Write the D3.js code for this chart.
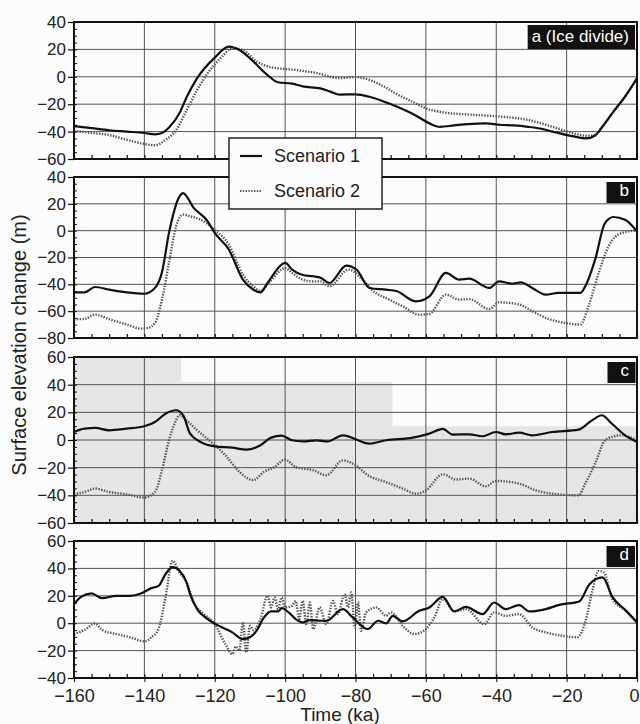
<!DOCTYPE html>
<html>
<head>
<meta charset="utf-8">
<script src="https://cdn.jsdelivr.net/npm/d3@7"></script>
<style>
  body { margin: 0; background: #fff; }
  svg { display: block; font-family: "Liberation Sans", Arial, Helvetica, sans-serif; }
</style>
</head>
<body>
<div id="chart"></div>
<script>
// time (ka) ticks and the two model scenarios, one pair of series per panel
const timeTicks = [-160, -140, -120, -100, -80, -60, -40, -20, 0];
const seriesNames = ["Scenario 1", "Scenario 2"];
const panelLabels = ["a (Ice divide)", "b", "c", "d"];
const panelDomains = [[-60, 40], [-80, 40], [-60, 60], [-40, 60]];

// [time ka, elevation change m]
const a1 = [[-160,-36],[-155,-37.5],[-150,-39],[-145,-40],[-140,-41],[-137,-42],[-135,-41],[-133,-37],[-130,-26.5],[-128,-15],[-125,-1],[-120,14],[-116,22],[-113,19.5],[-110,13.5],[-105,1.3],[-102,-4],[-98,-5],[-95,-7],[-90,-8.5],[-87,-11],[-84.5,-13],[-80,-12.8],[-76,-14.6],[-72,-18],[-68,-22],[-63,-28],[-59,-34],[-56,-36.5],[-52,-35.5],[-48,-34.5],[-43,-34],[-39,-35],[-35,-35.5],[-31,-36.5],[-27,-38],[-24,-40],[-18,-43.5],[-14.5,-45],[-12,-43],[-10,-37],[-7,-26.5],[-3,-13],[0,-1]];
const a2 = [[-160,-39.5],[-155,-41],[-150,-42.5],[-145,-46],[-140,-49],[-137,-50],[-134,-46],[-131,-39],[-128,-24.5],[-125,-9.6],[-122,2.7],[-118,14.5],[-115,21],[-112,19.5],[-108,11],[-104,7],[-97,5],[-91,2.7],[-84.5,-1],[-80,-0.2],[-76,-2.3],[-72,-7],[-68,-13],[-64,-18],[-60,-23],[-55,-26],[-48,-27.5],[-39,-29],[-31,-31.5],[-24,-36.5],[-18.4,-41],[-14.5,-43],[-12,-42.5],[-10,-37],[-7,-26.5],[-3,-13],[0,-1]];

const b1 = [[-160,-46],[-157,-46],[-154,-42],[-150,-44],[-145,-46],[-140,-47],[-137,-42.7],[-135,-31],[-133,-1.5],[-130,25.6],[-129,28],[-126,17],[-122,7],[-120,-1.7],[-116,-14],[-112,-36.5],[-109,-44],[-107,-46],[-105,-39],[-101,-25.3],[-100,-24],[-98,-29],[-95,-33],[-92,-34],[-90,-35],[-87.4,-39],[-82.6,-26],[-79.7,-29],[-76,-42.7],[-71.3,-44],[-68.4,-45],[-62.8,-52.7],[-59,-49],[-54.3,-31.5],[-50.5,-36.5],[-47.7,-35.8],[-42,-42.7],[-39.2,-37.8],[-35.5,-39.5],[-33,-38.5],[-29.8,-42.7],[-26,-47.7],[-22.3,-46.4],[-16.1,-46.4],[-14.7,-41.5],[-11.9,-21.6],[-9.1,5.7],[-6.7,10.2],[-3.4,8.2],[0,-0.5]];
const b2 = [[-160,-66],[-157,-65.8],[-154,-62.6],[-150,-66],[-145,-70],[-141,-73],[-139,-72.5],[-137,-68.8],[-135,-51.4],[-133,-24],[-131,3.2],[-129,12],[-127,10.7],[-124,8.2],[-120,0.7],[-116,-10.4],[-112,-32.8],[-109,-41.5],[-107,-45],[-105,-40],[-101,-29],[-100,-27.8],[-98,-31.5],[-95,-36.5],[-92,-37.8],[-90,-37.8],[-87.4,-41.5],[-82,-29],[-78,-36.5],[-75,-45],[-70.4,-51.4],[-66.6,-56.4],[-61.9,-62.6],[-59,-62],[-54.3,-47.7],[-50.5,-51.4],[-47.7,-51],[-42,-58.4],[-39.2,-53.4],[-33.5,-55],[-29.8,-60],[-25.1,-65.8],[-20.4,-68.8],[-16.1,-70],[-13.8,-56.4],[-10.9,-31.5],[-8.1,-11.7],[-4.3,-1.7],[0,0.2]];

const c1 = [[-160,5.8],[-157,8.2],[-154,8.7],[-150,7],[-145,8.2],[-140,9.9],[-137,13],[-134,19],[-131,21.5],[-129,17.9],[-127,4.6],[-124,-1.4],[-120,-4.6],[-115,-5.5],[-111,-7],[-107,-3.8],[-104,1.7],[-101,3.2],[-98,-0.2],[-95,-1],[-91,-0.2],[-88,-1],[-83.6,3.4],[-76,-2.6],[-71.3,-0.2],[-63.7,1.7],[-59,4.6],[-55.2,8],[-52.4,3.9],[-47.7,4.1],[-43.9,2.7],[-40.1,5.8],[-37.3,4.1],[-33.5,5.3],[-29.8,3.4],[-24.1,5.8],[-16.6,7.5],[-12.8,14.2],[-10,17.9],[-7.2,11.9],[-3.4,3.4],[0,-1.4]];
const c2 = [[-160,-39.3],[-157,-37.6],[-154,-35.1],[-150,-37.6],[-145,-39.3],[-140,-41.6],[-137,-37.6],[-135,-21.9],[-133,-0.2],[-131,14.2],[-130,17.9],[-128,14.2],[-125,7],[-121,-1.4],[-117,-11],[-113,-23],[-109,-29],[-106,-23],[-103,-19.5],[-100,-14.2],[-97,-19.5],[-92,-21.9],[-88.3,-25.5],[-83.6,-14.7],[-80.8,-17],[-76,-26.2],[-71.3,-30.4],[-66.6,-35.1],[-62.8,-38.8],[-60,-36.4],[-55.2,-24.8],[-51.4,-28.6],[-47.7,-27.9],[-43,-33.5],[-40.1,-29.6],[-33.5,-31.5],[-28.8,-36.4],[-24.1,-38.8],[-16.6,-40],[-14.7,-31.5],[-11.9,-17],[-9.1,-0.2],[-7.2,2.2],[-4.3,3.4],[0,-0.2]];

const d1 = [[-160,13.9],[-158,19.2],[-155,21.7],[-152,18.3],[-148,20],[-144,20],[-141,21.7],[-138,25.6],[-136,27.2],[-134,35.8],[-132,41],[-130,38.2],[-128,29.7],[-127,21.2],[-125,10.3],[-122,3],[-118,-3],[-115,-6.7],[-112,-11.6],[-110,-10.3],[-108,-5],[-106,4.2],[-104,8.6],[-102,8.6],[-101,11],[-99,7.9],[-97,3],[-95,0.6],[-93,2.3],[-90,1.8],[-88.3,1.8],[-83.6,10.3],[-80.8,4.2],[-76.5,-4.3],[-73.6,1.8],[-71.3,-0.1],[-69.4,5.4],[-66.6,1.3],[-61.9,9],[-59,11.5],[-55.2,19.2],[-51.9,8.6],[-48.6,11.9],[-43.9,6.6],[-40.6,15.1],[-37.3,10.3],[-33.5,13.2],[-30.6,8.6],[-25.9,10.3],[-22.1,13.4],[-16.4,15.9],[-13.5,28.5],[-9.8,33.4],[-6.9,18.8],[-3.1,9],[0,0.6]];
const d2 = [[-160,-7.9],[-157,-5],[-154,-0.2],[-152,-5],[-148,-7.9],[-144,-10.3],[-140,-13.3],[-138,-10.3],[-136,-4.3],[-134,18.8],[-132,45.5],[-130,37],[-128,29.7],[-126,15.1],[-123,6.6],[-120,-0.7],[-117,-15.2],[-115,-22.5],[-114,-17],[-113,-20],[-112,0.6],[-111,-21.3],[-110,-1.9],[-109,-5],[-107,3],[-105,20],[-104,11.5],[-103,18.8],[-102,10.3],[-101,18.8],[-100,11.5],[-98,12.7],[-97,16.3],[-96,3],[-95,16.3],[-94,-0.7],[-93,15.1],[-92,-4.3],[-90.2,11.5],[-88.3,-0.7],[-86.4,16.3],[-85,6.6],[-83.1,21.2],[-82.1,11.5],[-81.2,22.4],[-80.2,-3.1],[-79.3,15.1],[-78.4,-5.5],[-77,7.9],[-74.1,11.5],[-71.3,5.4],[-69.9,7.9],[-66.6,-1.9],[-63.3,-7.9],[-60,-4.3],[-57.6,4.2],[-55.2,17.6],[-51.9,8.6],[-48.6,10.3],[-43.4,-0.7],[-40.6,7.9],[-37.3,5.4],[-33.5,6.6],[-29.8,-3.1],[-25.9,-6.7],[-21.2,-9.2],[-17,-10.3],[-14.6,1.8],[-12.7,23.6],[-10.9,38.2],[-9.4,37],[-7,17.6],[-3.1,9],[0,0.6]];

// grey halftone patches in panel c of the scan: [t0, t1, top m, bottom m]
const cShade = [[-160, -129.5, 60, 42], [-160, -69.5, 42, 10], [-160, 0, 10, -60]];

const width = 640;
const height = 724;
const marginLeft = 74;
const marginRight = 3;
const panelTops = [22, 177, 357, 541];
const panelBottoms = [159, 338, 523, 678];
const series = [[a1, a2], [b1, b2], [c1, c2], [d1, d2]];

const x = d3.scaleLinear([-160, 0], [marginLeft, width - marginRight]);

const svg = d3.select("#chart").append("svg")
    .attr("width", width)
    .attr("height", height);

svg.append("rect").attr("width", width).attr("height", height).attr("fill", "#fcfcfc");

const line = d3.line().curve(d3.curveMonotoneX);

panelDomains.forEach((dom, i) => {
  const y = d3.scaleLinear(dom, [panelBottoms[i], panelTops[i]]);
  const g = svg.append("g");
  const innerW = x(0) - x(-160);
  const yTicks = d3.range(dom[0], dom[1] + 1, 20);

  if (i === 2) {
    g.selectAll("rect.shade").data(cShade).join("rect")
      .attr("x", d => x(d[0]))
      .attr("width", d => x(d[1]) - x(d[0]))
      .attr("y", d => y(d[2]))
      .attr("height", d => y(d[3]) - y(d[2]))
      .attr("fill", "#e6e6e6");
  }

  // grid
  g.append("g").selectAll("line").data(yTicks).join("line")
    .attr("x1", x(-160)).attr("x2", x(0))
    .attr("y1", d => y(d)).attr("y2", d => y(d))
    .attr("stroke", "#555").attr("stroke-width", 1);
  g.append("g").selectAll("line").data(timeTicks).join("line")
    .attr("x1", d => x(d)).attr("x2", d => x(d))
    .attr("y1", panelTops[i]).attr("y2", panelBottoms[i])
    .attr("stroke", "#555").attr("stroke-width", 1);

  // lines
  g.append("path")
    .attr("fill", "none")
    .attr("stroke", "#555")
    .attr("stroke-width", 2.4)
    .attr("stroke-dasharray", "1.4 1.4")
    .attr("d", line(series[i][1].map(d => [x(d[0]), y(d[1])])));
  g.append("path")
    .attr("fill", "none")
    .attr("stroke", "#111")
    .attr("stroke-width", 2.2)
    .attr("stroke-linejoin", "round")
    .attr("d", line(series[i][0].map(d => [x(d[0]), y(d[1])])));

  // frame
  g.append("rect")
    .attr("x", x(-160)).attr("y", panelTops[i])
    .attr("width", innerW).attr("height", panelBottoms[i] - panelTops[i])
    .attr("fill", "none").attr("stroke", "#111").attr("stroke-width", 2);

  // y axis: labelled major ticks out, minor ticks in
  const ya = g.append("g")
    .attr("transform", `translate(${marginLeft},0)`)
    .call(d3.axisLeft(y).tickValues(yTicks).tickSize(6).tickPadding(2));
  ya.select(".domain").remove();
  ya.selectAll("line").attr("stroke", "#111").attr("stroke-width", 1.2);
  ya.selectAll("text").attr("font-size", 17).attr("fill", "#222").attr("font-family", null);

  const ym = g.append("g")
    .attr("transform", `translate(${marginLeft},0)`)
    .call(d3.axisRight(y).tickValues(d3.range(dom[0], dom[1] + 1, 5)).tickSize(3).tickFormat(""));
  ym.select(".domain").remove();
  ym.selectAll("line").attr("stroke", "#111");

  // x axis: minor ticks pointing up into the panel
  const xm = g.append("g")
    .attr("transform", `translate(0,${panelBottoms[i]})`)
    .call(d3.axisTop(x).tickValues(d3.range(-160, 1, 5)).tickSize(4).tickFormat(""));
  xm.select(".domain").remove();
  xm.selectAll("line").attr("stroke", "#111").attr("stroke-width", 1.2);

  if (i === 3) {
    const xa = g.append("g")
      .attr("transform", `translate(0,${panelBottoms[i]})`)
      .call(d3.axisBottom(x).tickValues(timeTicks).tickSize(4).tickPadding(7));
    xa.select(".domain").remove();
    xa.selectAll("line").attr("stroke", "#111");
    xa.selectAll("text").attr("font-size", 18).attr("fill", "#222").attr("font-family", null)
      .attr("dx", d => d === 0 ? -3 : 0);
  }

  // panel label in a black box
  const lab = g.append("g");
  const txt = lab.append("text")
    .attr("x", x(0) - 8).attr("y", panelTops[i] + (i === 0 ? 20 : 19))
    .attr("text-anchor", "end")
    .attr("fill", "#fff")
    .attr("font-size", 17)
    .text(panelLabels[i]);
  const bb = txt.node().getBBox();
  const padX = i === 0 ? 4 : 13;
  lab.insert("rect", "text")
    .attr("x", bb.x - padX).attr("y", panelTops[i] + (i === 0 ? 3 : 5))
    .attr("width", bb.width + padX + 6).attr("height", i === 0 ? 24 : 21)
    .attr("fill", "#111");
});

// legend
const legend = svg.append("g").attr("transform", "translate(229,138)");
legend.append("rect")
  .attr("width", 153).attr("height", 71)
  .attr("fill", "#fcfcfc").attr("stroke", "#222").attr("stroke-width", 1.5);
seriesNames.forEach((name, k) => {
  const ly = 18 + k * 35;
  legend.append("line")
    .attr("x1", 11).attr("x2", 33).attr("y1", ly).attr("y2", ly)
    .attr("stroke", k === 0 ? "#111" : "#555")
    .attr("stroke-width", k === 0 ? 2.2 : 2)
    .attr("stroke-dasharray", k === 0 ? null : "1.4 1.4");
  legend.append("text")
    .attr("x", 45).attr("y", ly + 6)
    .attr("font-size", 18).attr("fill", "#222")
    .text(name);
});

// axis titles
svg.append("text")
  .attr("transform", "translate(26,345) rotate(-90)")
  .attr("text-anchor", "middle")
  .attr("font-size", 20).attr("fill", "#222")
  .text("Surface elevation change (m)");
svg.append("text")
  .attr("x", 340).attr("y", 721)
  .attr("text-anchor", "middle")
  .attr("font-size", 19).attr("fill", "#222")
  .text("Time (ka)");
</script>
</body>
</html>
